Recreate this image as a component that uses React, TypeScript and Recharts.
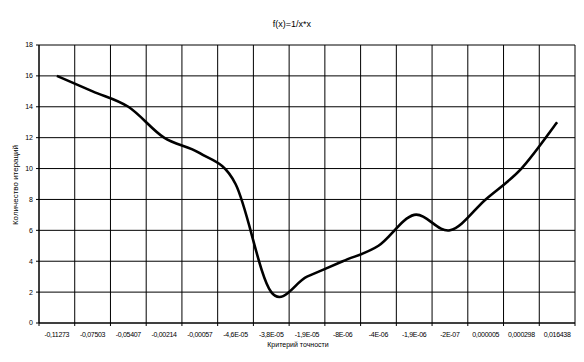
import React from 'react';
import { LineChart, Line, XAxis, YAxis, CartesianGrid } from 'recharts';

const categories = [
  '-0,11273', '-0,07503', '-0,05407', '-0,00214', '-0,00057', '-4,6E-05', '-3,8E-05',
  '-1,9E-05', '-8E-06', '-4E-06', '-1,9E-06', '-2E-07', '0,000005', '0,000298', '0,016438',
];
const iterations = [16, 15, 14, 12, 11, 9, 2, 3, 4, 5, 7, 6, 8, 10, 13];
const yTicks = [0, 2, 4, 6, 8, 10, 12, 14, 16, 18];

const chartTitle = 'f(x)=1/x*x';
const xTitle = 'Критерий точности';
const yTitle = 'Количество итераций';

const data = categories.map((c, i) => ({ name: c, v: iterations[i] }));

// Excel-like smoothed line (Catmull-Rom style Bezier)
const excelSmooth: any = (context: any) => {
  let pts: number[][] = [];
  return {
    areaStart() {},
    areaEnd() {},
    lineStart() { pts = []; },
    point(x: number, y: number) { pts.push([+x, +y]); },
    lineEnd() {
      if (!pts.length) return;
      context.moveTo(pts[0][0], pts[0][1]);
      for (let i = 0; i < pts.length - 1; i++) {
        const p0 = pts[i - 1] || pts[i];
        const p1 = pts[i];
        const p2 = pts[i + 1];
        const p3 = pts[i + 2] || p2;
        const c1x = p1[0] + (p2[0] - p0[0]) / 6;
        const c1y = p1[1] + (p2[1] - p0[1]) / 6;
        const c2x = p2[0] - (p3[0] - p1[0]) / 6;
        const c2y = p2[1] - (p3[1] - p1[1]) / 6;
        context.bezierCurveTo(c1x, c1y, c2x, c2y, p2[0], p2[1]);
      }
    },
  };
};

const font = 'Arial, "Liberation Sans", sans-serif';
const halfBand = (584 - 9 - 39) / categories.length / 2;

const XTick = (props: any) => {
  const { x, y, payload, index } = props;
  const top = y - 5;
  const last = index === categories.length - 1;
  return (
    <g>
      <line x1={x - halfBand} x2={x - halfBand} y1={top} y2={top + 3} stroke="#000" />
      {last && <line x1={x + halfBand} x2={x + halfBand} y1={top} y2={top + 3} stroke="#000" />}
      <text x={x} y={y + 9} textAnchor="middle" fontSize={7} fill="#000" fontFamily={font} letterSpacing={-0.3}>
        {payload.value}
      </text>
    </g>
  );
};

export default function App() {
  const n = categories.length;
  return (
    <div style={{ position: 'absolute', left: 0, top: 0, width: 584, height: 362, background: '#fff', fontFamily: font }}>
      <LineChart width={584} height={362} data={data} margin={{ top: 45, right: 9, bottom: 9, left: 0 }}>
        <CartesianGrid
          stroke="#000"
          strokeWidth={1}
          verticalCoordinatesGenerator={(p: any) => {
            const o = p.offset;
            return Array.from({ length: n + 1 }, (_, i) => o.left + (i * o.width) / n);
          }}
        />
        <XAxis
          dataKey="name"
          height={30}
          interval={0}
          padding={{ left: halfBand, right: halfBand }}
          tickSize={3}
          tickMargin={2}
          tickLine={false}
          axisLine={{ stroke: '#000' }}
          tick={<XTick />}
        />
        <YAxis
          width={39}
          domain={[0, 18]}
          ticks={yTicks}
          interval={0}
          tickSize={3}
          tickMargin={3}
          axisLine={{ stroke: '#000' }}
          tickLine={{ stroke: '#000' }}
          tick={{ fontSize: 7, fill: '#000', fontFamily: font }}
        />
        <Line
          dataKey="v"
          type={excelSmooth}
          stroke="#000"
          strokeWidth={2.6}
          dot={false}
          isAnimationActive={false}
        />
      </LineChart>
      <div style={{ position: 'absolute', left: 0, width: 584, top: 19, textAlign: 'center', fontSize: 9, lineHeight: '10px', color: '#000' }}>
        {chartTitle}
      </div>
      <div style={{ position: 'absolute', left: 298, top: 341, transform: 'translateX(-50%)', fontSize: 7, lineHeight: '8px', whiteSpace: 'nowrap', color: '#000' }}>
        {xTitle}
      </div>
      <div style={{ position: 'absolute', left: 15, top: 185, transform: 'translate(-50%,-50%) rotate(-90deg)', fontSize: 8, lineHeight: '9px', whiteSpace: 'nowrap', color: '#000' }}>
        {yTitle}
      </div>
    </div>
  );
}
